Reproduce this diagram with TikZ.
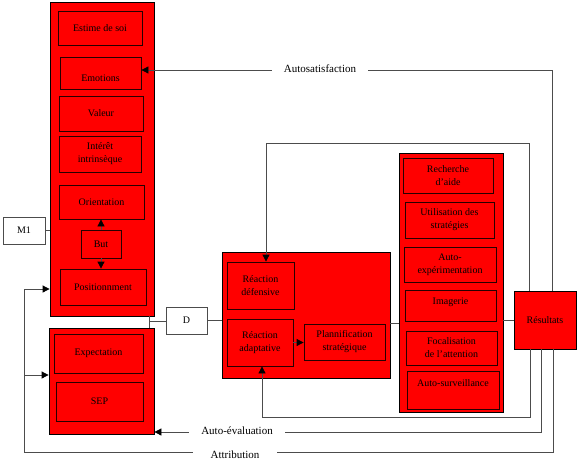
\documentclass[tikz,border=0pt]{standalone}
\usepackage{fontspec}
\setmainfont{Liberation Serif}
\usetikzlibrary{arrows.meta}
\begin{document}
\begin{tikzpicture}[x=1pt,y=-1pt,
  outer/.style={draw=black, fill=red, line width=0.8pt, inner sep=0pt},
  inbox/.style={draw=black!85!red, fill=red, line width=0.8pt, align=center,
    font=\fontsize{10}{13}\selectfont, inner sep=1pt},
  btext/.style={align=center, font=\fontsize{10}{13}\selectfont, inner sep=0pt},
  wbox/.style={draw=black!70, fill=white, line width=0.6pt, font=\fontsize{10}{12}\selectfont},
  conn/.style={draw=black!70, line width=0.8pt},
  arr/.style={conn, -{Triangle[length=7pt,width=7pt,color=black]}},
  lbl/.style={fill=white, font=\fontsize{11}{13}\selectfont, inner xsep=12pt, inner ysep=2pt}]
\useasboundingbox (0,0) rectangle (580,463);

% big containers
\node[outer, minimum width=104, minimum height=314] (box1) at (102,159) {};
\node[outer, minimum width=105, minimum height=106] (box2) at (101.5,381) {};
\node[outer, minimum width=168, minimum height=126] (mid) at (306,315) {};
\node[outer, minimum width=104, minimum height=259] (right) at (451,282.5) {};
\node[outer, inner sep=1pt, minimum width=62, minimum height=58, font=\fontsize{10}{12}\selectfont] (res) at (545,320) {Résultats};
\node[wbox, minimum width=42, minimum height=27] (m1) at (24,230.5) {M1};
\node[wbox, minimum width=41, minimum height=27] (d) at (186.5,320.5) {D};

% left column
\node[inbox, minimum width=84, minimum height=34] (estime) at (100,28) {Estime de soi};
\node[inbox, minimum width=81, minimum height=32] (emo) at (100.5,73) {};
\node[btext] (emotxt) at ([yshift=-5pt]emo.center) {Emotions};
\node[inbox, minimum width=84, minimum height=35] (valeur) at (101,113.5) {Valeur};
\node[inbox, minimum width=82, minimum height=36] (interet) at (100,154) {Intérêt\\intrinsèque};
\node[inbox, minimum width=85, minimum height=34] (orient) at (101.5,202) {Orientation};
\node[inbox, minimum width=40, minimum height=28] (but) at (101,244) {But};
\node[inbox, minimum width=86, minimum height=36] (posit) at (103,287) {Positionnment};
\node[inbox, minimum width=89, minimum height=39] (expect) at (98.5,353.5) {Expectation};
\node[inbox, minimum width=87, minimum height=39] (sep) at (99.5,401.5) {SEP};

% middle
\node[inbox, minimum width=67, minimum height=47] (defens) at (260.5,285.5) {Réaction\\défensive};
\node[inbox, minimum width=66, minimum height=47] (adapt) at (260,342.5) {Réaction\\adaptative};
\node[inbox, minimum width=81, minimum height=36] (plan) at (344.5,342) {Plannification\\stratégique};

% right column
\node[inbox, minimum width=90, minimum height=35] (rech) at (448,175.5) {Recherche\\d'aide};
\node[inbox, minimum width=89, minimum height=36] (util) at (449.5,220) {Utilisation des\\stratégies};
\node[inbox, minimum width=92, minimum height=35] (autoexp) at (450,264.5) {Auto-\\expérimentation};
\node[inbox, minimum width=91, minimum height=31] (imag) at (450.5,305.5) {};
\node[btext] (imagtxt) at ([yshift=3pt]imag.center) {Imagerie};
\node[inbox, minimum width=91, minimum height=34] (focal) at (451.5,348) {Focalisation\\de l'attention};
\node[inbox, minimum width=92, minimum height=38] (surv) at (453,390) {};
\node[btext] (survtxt) at ([yshift=7pt]surv.center) {Auto-surveillance};

% coordinates
\coordinate (dj) at (149,321);
\coordinate (t1) at (529,143);
\coordinate (t2) at (266,143);
\coordinate (a1) at (552,70);
\coordinate (b1) at (530,417);
\coordinate (b1l) at (262,417);
\coordinate (b2) at (541,432);
\coordinate (b3) at (553,452);
\coordinate (b3l) at (24,452);
\coordinate (b3t) at (24,289);
\coordinate (b3m) at (24,375);

% connectors
\draw[conn] (m1.east) -- (m1.east -| box1.west);
\draw[arr] (but.north) -- (but.north |- orient.south);
\draw[arr] (but.south) -- (but.south |- posit.north);
\draw[conn] (box1.south -| dj) -- (box2.north -| dj);
\draw[conn] (dj) -- (dj -| d.west);
\draw[conn] (d.east) -- (d.east -| mid.west);
\draw[arr] (adapt.east) -- (adapt.east -| plan.west);
\draw[conn] ([yshift=-8pt]mid.east) -- ([yshift=-8pt]mid.east -| right.west);
\draw[conn] (res.west -| right.east) -- (res.west);
\draw[arr] (res.north -| t1) -- (t1) -- (t2) -- (t2 |- defens.north);
\draw[arr] (res.north -| a1) -- (a1) -- (a1 -| emo.east);
\draw[arr] (res.south -| b1) -- (b1) -- (b1l) -- (b1l |- adapt.south);
\draw[arr] (res.south -| b2) -- (b2) -- (b2 -| box2.east);
\draw[arr] (res.south -| b3) -- (b3) -- (b3l) -- (b3t) -- (b3t -| box1.west);
\draw[arr] (b3m) -- (b3m -| box2.west);

% labels
\node[lbl] (lsat) at (320,69) {Autosatisfaction};
\node[lbl] (leval) at (237,431) {Auto-évaluation};
\node[lbl, inner xsep=18pt] (lattr) at (235,455) {Attribution};
\end{tikzpicture}
\end{document}
